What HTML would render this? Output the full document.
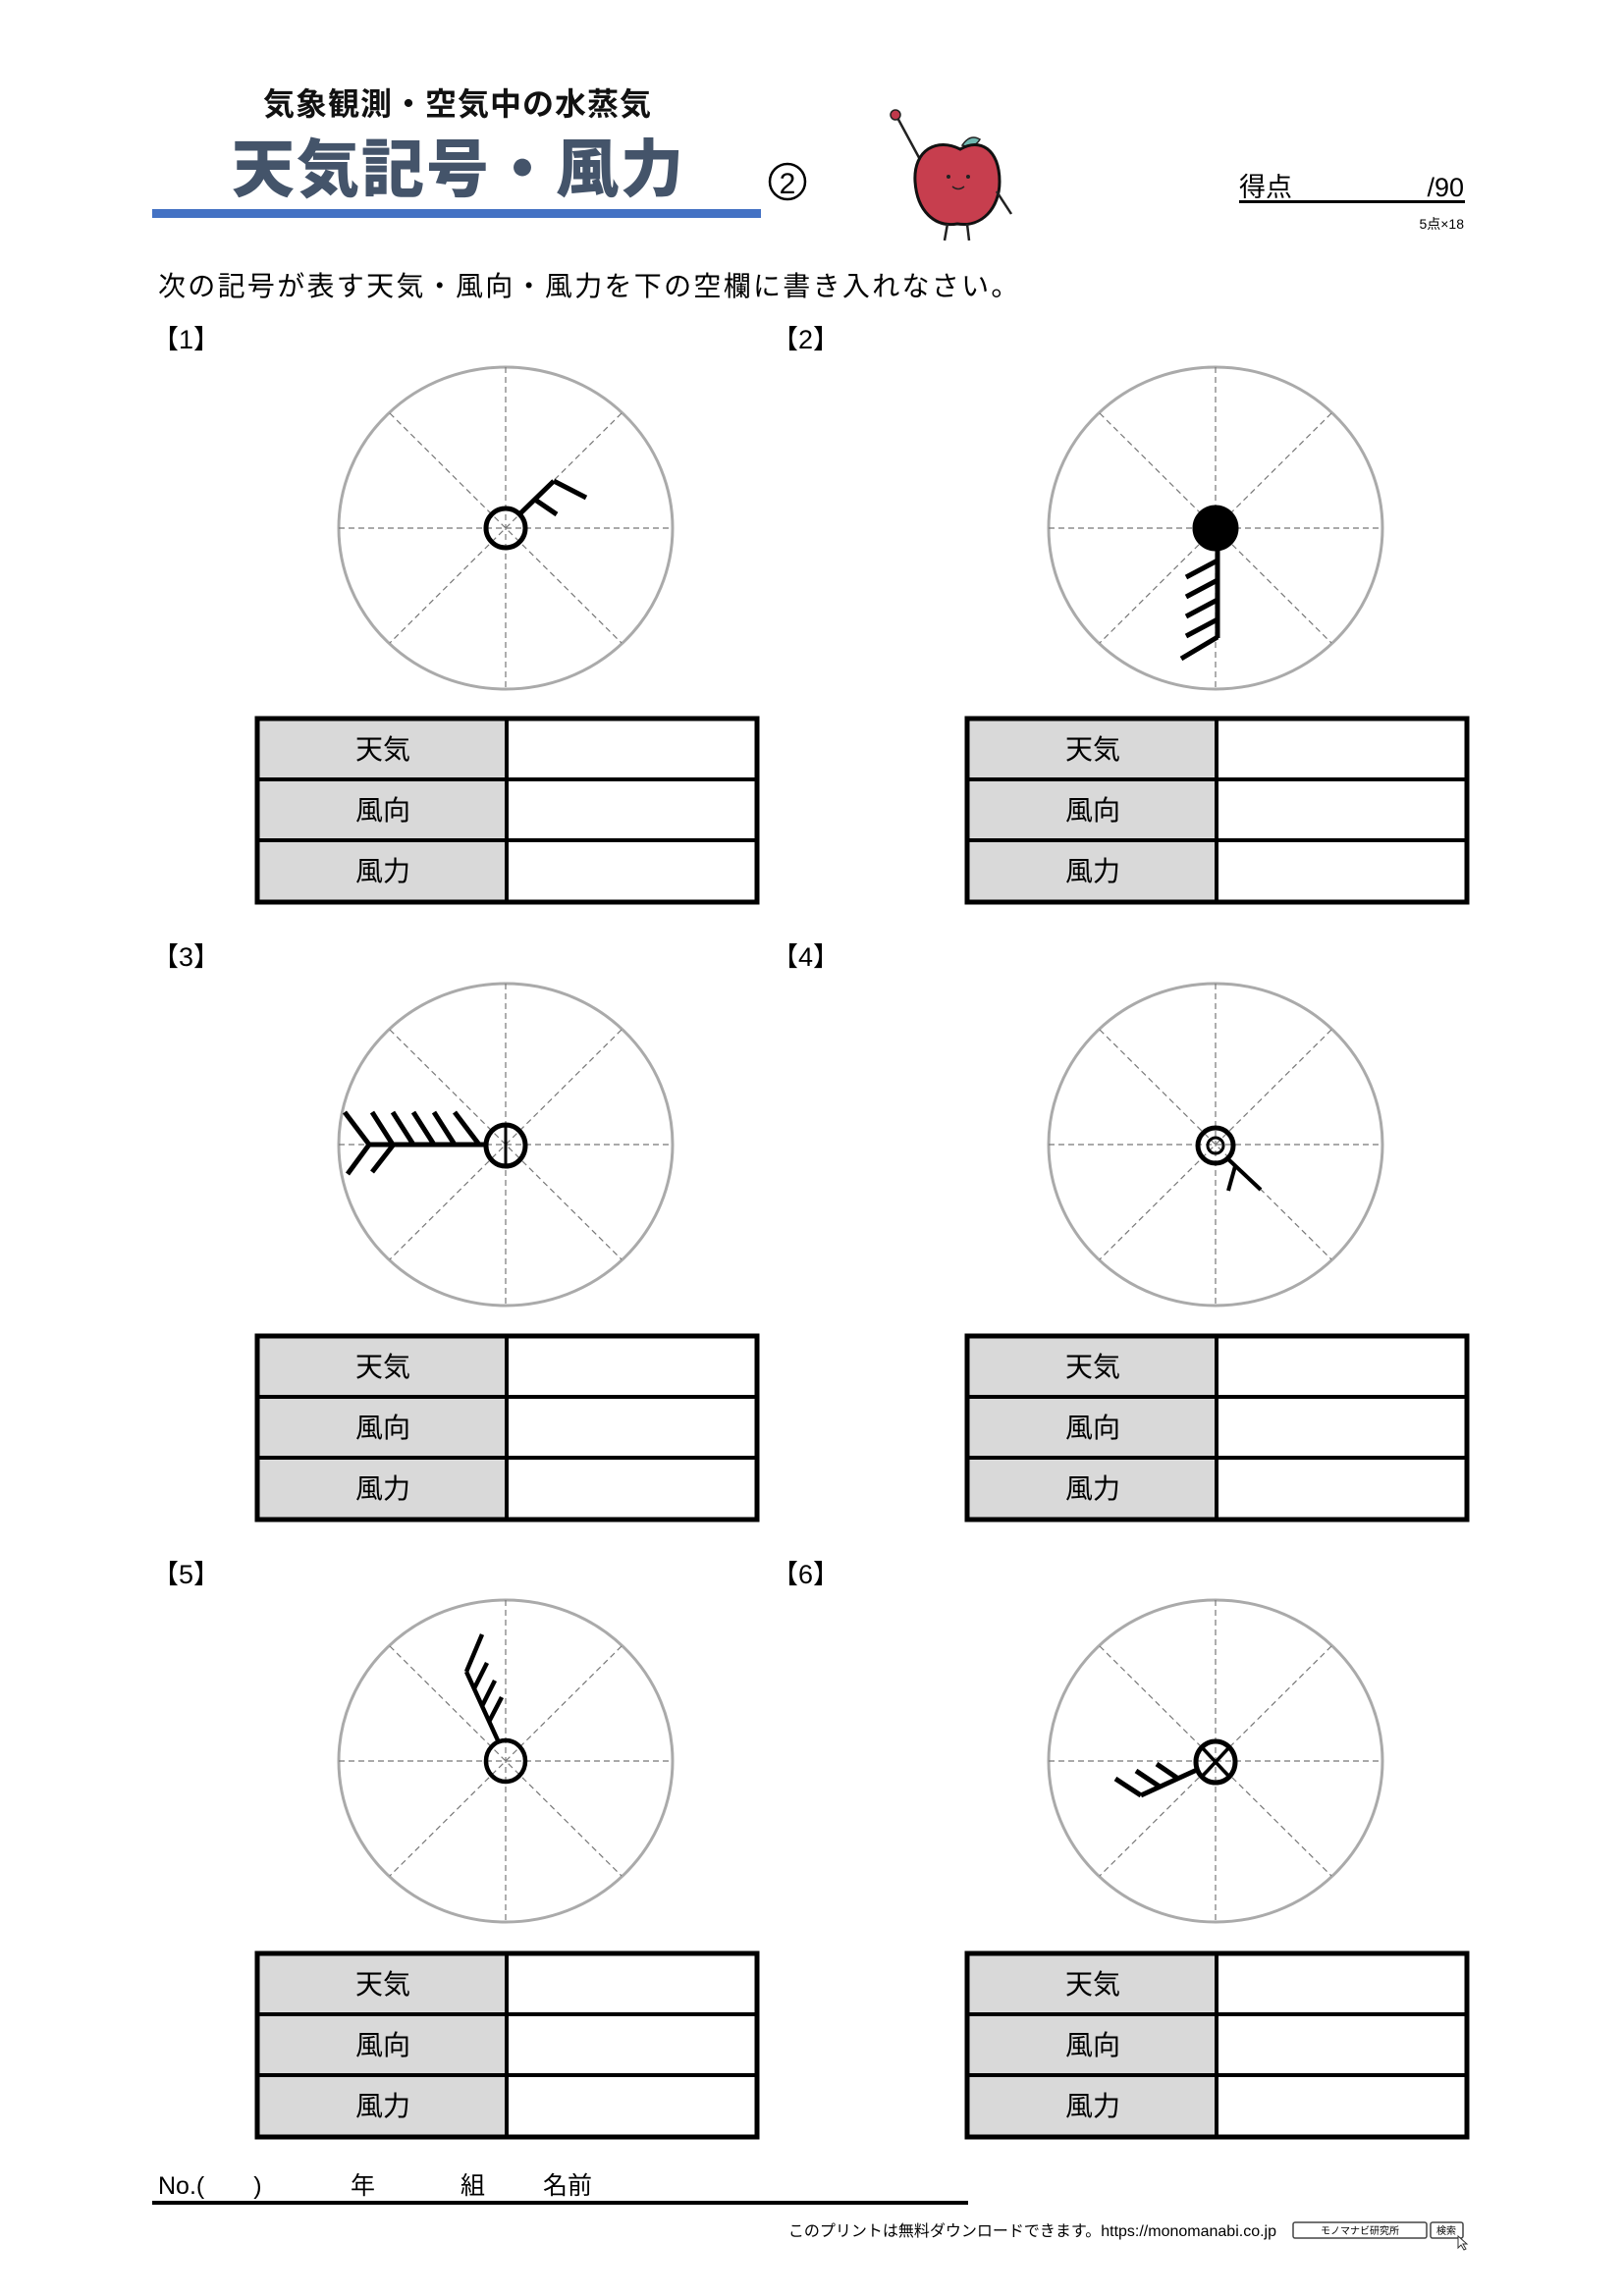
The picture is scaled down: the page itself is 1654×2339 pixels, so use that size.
<!DOCTYPE html>
<html><head><meta charset="utf-8">
<style>
html,body{margin:0;padding:0;background:#fff;}
svg{display:block;}
text{font-family:"Liberation Sans","Noto Sans CJK JP",sans-serif;}
</style></head>
<body>
<svg width="1654" height="2339" viewBox="0 0 1654 2339" xmlns="http://www.w3.org/2000/svg">
<defs>
  <g id="dial">
    <ellipse cx="0" cy="0" rx="170" ry="164" fill="none" stroke="#aaa" stroke-width="3"/>
    <g stroke="#777" stroke-width="1.2" stroke-dasharray="6,4">
      <line x1="0" y1="-164" x2="0" y2="164"/>
      <line x1="-170" y1="0" x2="170" y2="0"/>
      <line x1="-118" y1="-117" x2="118" y2="117"/>
      <line x1="118" y1="-117" x2="-118" y2="117"/>
    </g>
  </g>
  <g id="tbl">
    <rect x="0" y="0" width="254" height="187" fill="#d9d9d9"/>
    <rect x="0" y="0" width="509" height="187" fill="none" stroke="#000" stroke-width="5"/>
    <line x1="0" y1="62" x2="509" y2="62" stroke="#000" stroke-width="4"/>
    <line x1="0" y1="124" x2="509" y2="124" stroke="#000" stroke-width="4"/>
    <line x1="254" y1="0" x2="254" y2="187" stroke="#000" stroke-width="4"/>
    <text x="128" y="41" font-size="28" text-anchor="middle">天気</text>
    <text x="128" y="103" font-size="28" text-anchor="middle">風向</text>
    <text x="128" y="165" font-size="28" text-anchor="middle">風力</text>
  </g>
</defs>

<!-- header -->
<text x="466" y="117" font-size="32" font-weight="bold" text-anchor="middle" fill="#111" letter-spacing="1">気象観測・空気中の水蒸気</text>
<text x="467" y="195" font-size="64" font-weight="900" text-anchor="middle" fill="#44546a" letter-spacing="2">天気記号・風力</text>
<rect x="155" y="213" width="620" height="9" fill="#4472c4"/>
<circle cx="802" cy="185" r="18" fill="none" stroke="#000" stroke-width="2.5"/>
<text x="802" y="197" font-size="30" text-anchor="middle">2</text>

<!-- apple -->
<g>
  <line x1="913" y1="118" x2="940" y2="168" stroke="#222" stroke-width="2.5"/>
  <circle cx="912" cy="117" r="5" fill="#c0394b" stroke="#222" stroke-width="1.5"/>
  <path d="M980 148 q8 -12 18 -6 q-6 10 -18 6z" fill="#6fb7b0" stroke="#222" stroke-width="1.5"/>
  <path d="M978 152 C955 140 930 152 932 185 C934 215 952 232 975 228 C1000 232 1018 212 1018 185 C1018 152 998 140 978 152z" fill="#c73e4e" stroke="#111" stroke-width="3"/>
  <circle cx="966" cy="180" r="2" fill="#222"/><circle cx="986" cy="180" r="2" fill="#222"/>
  <path d="M970 190 q6 5 12 0" fill="none" stroke="#222" stroke-width="1.5"/>
  <line x1="965" y1="228" x2="962" y2="245" stroke="#222" stroke-width="2.5"/>
  <line x1="985" y1="228" x2="987" y2="245" stroke="#222" stroke-width="2.5"/>
  <line x1="1015" y1="195" x2="1030" y2="218" stroke="#222" stroke-width="2.5"/>
</g>

<text x="1262" y="200" font-size="27">得点</text>
<text x="1491" y="200" font-size="27" text-anchor="end">/90</text>
<rect x="1262" y="204" width="230" height="3" fill="#000"/>
<text x="1491" y="233" font-size="14" text-anchor="end">5点×18</text>

<text x="161" y="301" font-size="28" letter-spacing="2.3">次の記号が表す天気・風向・風力を下の空欄に書き入れなさい。</text>

<text x="155" y="355" font-size="27">【1】</text>
<text x="786" y="355" font-size="27">【2】</text>
<text x="155" y="984" font-size="27">【3】</text>
<text x="786" y="984" font-size="27">【4】</text>
<text x="155" y="1613" font-size="27">【5】</text>
<text x="786" y="1613" font-size="27">【6】</text>

<!-- dials -->
<use href="#dial" x="515" y="538"/>
<use href="#dial" x="1238" y="538"/>
<use href="#dial" x="515" y="1166"/>
<use href="#dial" x="1238" y="1166"/>
<use href="#dial" x="515" y="1794"/>
<use href="#dial" x="1238" y="1794"/>

<!-- tables -->
<use href="#tbl" x="262" y="732"/>
<use href="#tbl" x="985" y="732"/>
<use href="#tbl" x="262" y="1361"/>
<use href="#tbl" x="985" y="1361"/>
<use href="#tbl" x="262" y="1990"/>
<use href="#tbl" x="985" y="1990"/>

<!-- symbol 1 -->
<g stroke="#000" stroke-width="5" fill="none" stroke-linecap="butt">
  <ellipse cx="515" cy="538" rx="20" ry="20"/>
  <line x1="529" y1="524" x2="564" y2="490"/>
  <line x1="564" y1="490" x2="597" y2="507"/>
  <line x1="545" y1="509" x2="567" y2="524"/>
</g>

<!-- symbol 2 -->
<g stroke="#000" stroke-width="5" fill="none">
  <circle cx="1238" cy="538" r="21" fill="#000"/>
  <line x1="1240" y1="556" x2="1240" y2="650"/>
  <line x1="1240" y1="571" x2="1208" y2="588"/>
  <line x1="1240" y1="591" x2="1208" y2="608"/>
  <line x1="1240" y1="611" x2="1208" y2="628"/>
  <line x1="1240" y1="631" x2="1208" y2="648"/>
  <line x1="1240" y1="649" x2="1203" y2="671"/>
</g>

<!-- symbol 3 -->
<g stroke="#000" stroke-width="5" fill="none">
  <ellipse cx="515" cy="1167" rx="20" ry="21"/>
  <line x1="515" y1="1146" x2="515" y2="1188" stroke-width="3"/>
  <line x1="495" y1="1166" x2="376" y2="1166"/>
  <line x1="376" y1="1166" x2="351" y2="1133"/>
  <line x1="400" y1="1166" x2="379" y2="1133"/>
  <line x1="421" y1="1166" x2="400" y2="1133"/>
  <line x1="442" y1="1166" x2="421" y2="1133"/>
  <line x1="463" y1="1166" x2="442" y2="1133"/>
  <line x1="488" y1="1166" x2="463" y2="1133"/>
  <line x1="376" y1="1166" x2="354" y2="1196"/>
  <line x1="400" y1="1167" x2="379" y2="1194"/>
</g>

<!-- symbol 4 -->
<g stroke="#000" fill="none">
  <circle cx="1238" cy="1167" r="18" stroke-width="5"/>
  <circle cx="1238" cy="1167" r="8" stroke-width="3"/>
  <line x1="1251" y1="1181" x2="1284" y2="1212" stroke-width="4"/>
  <line x1="1258" y1="1188" x2="1251" y2="1213" stroke-width="4"/>
</g>

<!-- symbol 5 -->
<g stroke="#000" stroke-width="4.5" fill="none">
  <ellipse cx="515" cy="1794" rx="20" ry="21"/>
  <line x1="507" y1="1773" x2="475" y2="1703"/>
  <line x1="475" y1="1703" x2="491" y2="1665"/>
  <line x1="483" y1="1720" x2="496" y2="1694"/>
  <line x1="491" y1="1738" x2="504" y2="1712"/>
  <line x1="498" y1="1754" x2="511" y2="1729"/>
</g>

<!-- symbol 6 -->
<g stroke="#000" fill="none">
  <ellipse cx="1238" cy="1795" rx="20" ry="21" stroke-width="5"/>
  <line x1="1224" y1="1780" x2="1252" y2="1810" stroke-width="3.5"/>
  <line x1="1252" y1="1780" x2="1224" y2="1810" stroke-width="3.5"/>
  <line x1="1219" y1="1803" x2="1162" y2="1829" stroke-width="5"/>
  <line x1="1162" y1="1829" x2="1136" y2="1812" stroke-width="5"/>
  <line x1="1181" y1="1820" x2="1157" y2="1804" stroke-width="5"/>
  <line x1="1200" y1="1812" x2="1178" y2="1797" stroke-width="5"/>
</g>

<!-- footer -->
<text x="161" y="2235" font-size="25">No.(　　)</text>
<text x="357" y="2235" font-size="25">年</text>
<text x="469" y="2235" font-size="25">組</text>
<text x="553" y="2235" font-size="25">名前</text>
<rect x="155" y="2242" width="831" height="4" fill="#000"/>
<text x="1300" y="2278" font-size="16" text-anchor="end">このプリントは無料ダウンロードできます。https://monomanabi.co.jp</text>
<rect x="1317" y="2264" width="136" height="16" rx="2" fill="#fff" stroke="#444" stroke-width="1.5"/>
<text x="1385" y="2276" font-size="10" text-anchor="middle">モノマナビ研究所</text>
<rect x="1457" y="2264" width="33" height="16" rx="2" fill="#fff" stroke="#444" stroke-width="1.5"/>
<text x="1473" y="2276" font-size="10" text-anchor="middle">検索</text>
<path d="M1485 2278 l0 12 l3 -3 l3 5 l2 -1 l-3 -5 l4 0z" fill="#fff" stroke="#333" stroke-width="1"/>
</svg>
</body></html>
